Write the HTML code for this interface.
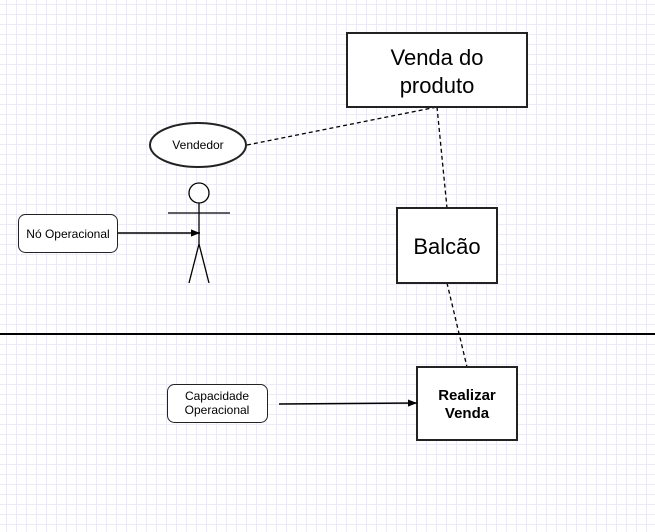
<!DOCTYPE html>
<html><head><meta charset="utf-8"><style>
html,body{margin:0;padding:0;background:#fff}
svg{display:block}
text{font-family:"Liberation Sans",Arial,sans-serif;fill:#000}
</style></head><body>
<svg width="655" height="532" viewBox="0 0 655 532" xmlns="http://www.w3.org/2000/svg">
<defs>
<pattern id="g" x="6" y="4" width="10" height="10" patternUnits="userSpaceOnUse">
<path d="M0 0.5H10M0.5 0V10" stroke="#ebebf7" stroke-width="1" fill="none"/>
</pattern>
<marker id="a" viewBox="0 0 10 10" refX="10" refY="5" markerWidth="9" markerHeight="9" markerUnits="userSpaceOnUse" orient="auto"><path d="M0 1L10 5L0 9Z" fill="#000"/></marker>
</defs>
<rect width="655" height="532" fill="#fff"/>
<rect width="655" height="532" fill="url(#g)"/>
<line x1="0" y1="334" x2="655" y2="334" stroke="#000" stroke-width="2"/>
<g stroke="#000" stroke-width="1.3" stroke-dasharray="4 3" fill="none">
<line x1="247" y1="145" x2="437" y2="107"/>
<line x1="437" y1="107" x2="447" y2="208"/>
<line x1="447" y1="283" x2="467" y2="367"/>
</g>
<rect x="347" y="33" width="180" height="74" fill="#fff" stroke="#222" stroke-width="2"/>
<text x="437" y="65" font-size="22" text-anchor="middle">Venda do</text>
<text x="437" y="93" font-size="22" text-anchor="middle">produto</text>
<ellipse cx="198" cy="145" rx="48" ry="22" fill="#fff" stroke="#222" stroke-width="2"/>
<text x="198" y="149" font-size="12" text-anchor="middle">Vendedor</text>
<rect x="397" y="208" width="100" height="75" fill="#fff" stroke="#222" stroke-width="2"/>
<text x="447" y="254" font-size="22" text-anchor="middle">Balcão</text>
<rect x="417" y="367" width="100" height="73" fill="#fff" stroke="#222" stroke-width="2"/>
<text x="467" y="400" font-size="15" font-weight="bold" text-anchor="middle">Realizar</text>
<text x="467" y="418" font-size="15" font-weight="bold" text-anchor="middle">Venda</text>
<rect x="167.5" y="384.5" width="100" height="38" rx="7" fill="#fff" stroke="#222" stroke-width="1"/>
<text x="217" y="400" font-size="12" text-anchor="middle">Capacidade</text>
<text x="217" y="414" font-size="12" text-anchor="middle">Operacional</text>
<line x1="279" y1="404" x2="417" y2="403" stroke="#000" stroke-width="1.5" marker-end="url(#a)"/>
<rect x="18.5" y="214.5" width="99" height="38" rx="7" fill="#fff" stroke="#222" stroke-width="1"/>
<text x="68" y="238" font-size="12" text-anchor="middle">Nó Operacional</text>
<line x1="118" y1="233" x2="200" y2="233" stroke="#000" stroke-width="1.5" marker-end="url(#a)"/>
<g stroke="#000" stroke-width="1.3" fill="none">
<circle cx="199" cy="193" r="10" fill="#fff"/>
<line x1="168" y1="213" x2="230" y2="213"/>
<line x1="199" y1="203" x2="199" y2="244"/>
<line x1="199" y1="244" x2="189" y2="283"/>
<line x1="199" y1="244" x2="209" y2="283"/>
</g>
</svg>
</body></html>
